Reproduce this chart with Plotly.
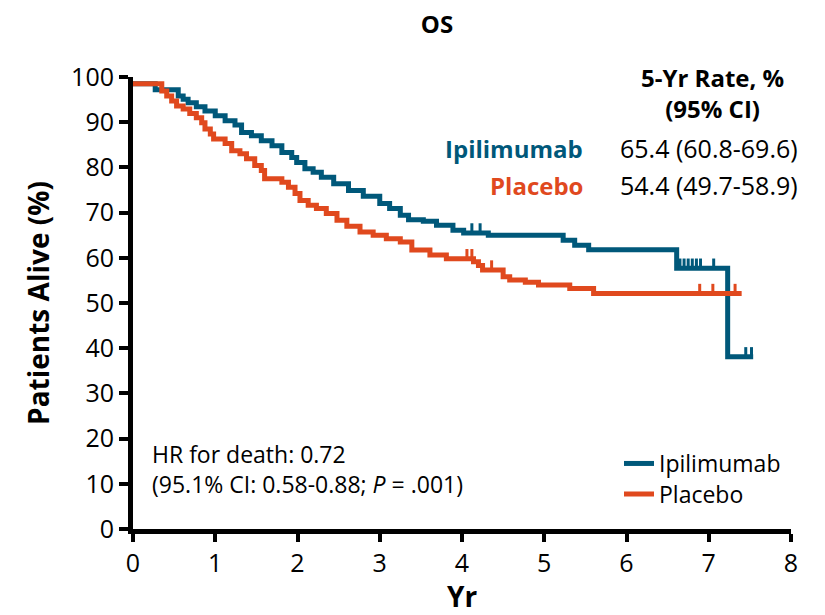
import numpy as np
import plotly.graph_objects as go

# ---- data ----
ipi_t = [0, 0.27, 0.55, 0.61, 0.67, 0.77, 0.875, 1.0, 1.12, 1.24, 1.32, 1.44, 1.56, 1.69,
         1.81, 1.93, 1.99, 2.09, 2.19, 2.29, 2.44, 2.62, 2.80, 3.0, 3.12, 3.25, 3.35, 3.53,
         3.69, 3.89, 4.02, 4.32, 5.23, 5.37, 5.54, 6.61, 7.23, 7.54]
ipi_s = [98.5, 97.2, 95.8, 95.1, 94.3, 93.4, 92.5, 91.4, 90.3, 89.4, 87.7, 87.0, 85.9, 84.8,
         83.3, 82.2, 81.1, 79.7, 78.9, 77.8, 76.4, 74.9, 73.6, 72.0, 70.9, 69.4, 68.4, 68.1,
         67.2, 66.1, 65.5, 65.0, 63.9, 62.8, 61.8, 57.7, 38.1, 38.1]
ipi_censor = [4.12, 4.22, 6.65, 6.70, 6.75, 6.80, 6.85, 6.90, 7.06, 7.45, 7.52]

pla_t = [0, 0.35, 0.41, 0.47, 0.53, 0.61, 0.69, 0.77, 0.835, 0.875, 0.94, 0.98, 1.12, 1.2,
         1.3, 1.38, 1.48, 1.56, 1.6, 1.81, 1.89, 1.97, 2.03, 2.13, 2.23, 2.35, 2.48, 2.6,
         2.76, 2.92, 3.08, 3.25, 3.39, 3.61, 3.81, 4.14, 4.20, 4.25, 4.50, 4.58, 4.77, 4.93,
         5.31, 5.6, 7.4]
pla_s = [98.5, 96.9, 95.8, 94.7, 93.6, 92.9, 91.9, 91.0, 89.9, 88.5, 87.4, 86.3, 85.3, 83.7,
         83.0, 81.9, 80.4, 79.3, 77.5, 76.7, 75.6, 74.2, 72.7, 71.6, 70.9, 69.8, 68.3, 67.0,
         65.7, 65.0, 64.2, 63.5, 61.7, 60.6, 59.8, 59.1, 58.3, 57.3, 55.8, 55.1, 54.6, 54.0,
         53.2, 52.1, 52.1]
pla_censor = [4.06, 4.12, 4.36, 6.89, 7.05, 7.32]

x_ticks = [0, 1, 2, 3, 4, 5, 6, 7, 8]
y_ticks = [0, 10, 20, 30, 40, 50, 60, 70, 80, 90, 100]

groups = ["Ipilimumab", "Placebo"]
rates = ["65.4 (60.8-69.6)", "54.4 (49.7-58.9)"]
hr_text = "HR for death: 0.72<br>(95.1% CI: 0.58-0.88; <i>P</i> = .001)"

TEAL = "#00587A"
ORANGE = "#E0491E"
FONT = "Open Sans"

# page has an 8px body margin; figure sized so it fits the 825x615 window
OFF = 8
W, H = 825 - OFF, 615 - OFF
# plot area in screen px: x 133..791, y 77..529
L, R, T, B = 133 - OFF, 825 - 791, 77 - OFF, 615 - 529
PW, PH = W - L - R, H - T - B


def px2x(px):
    return (px - OFF - L) / PW


def py2y(py):
    return (H - B - (py - OFF)) / PH


def step_at(ts, ss, t):
    i = np.searchsorted(np.asarray(ts), t, side="right") - 1
    return np.asarray(ss)[i]


fig = go.Figure()
for name, ts, ss, cens, col, lg in [
    ("Ipilimumab", ipi_t, ipi_s, ipi_censor, TEAL, "legend"),
    ("Placebo", pla_t, pla_s, pla_censor, ORANGE, "legend2"),
]:
    fig.add_trace(go.Scatter(x=ts, y=ss, mode="lines", line=dict(color=col, width=5, shape="hv"),
                             name=name, showlegend=True, legend=lg))
    cy = [step_at(ts, ss, c) + 0.9 for c in cens]
    fig.add_trace(go.Scatter(x=cens, y=cy, mode="markers", showlegend=False,
                             marker=dict(symbol="line-ns", size=8, line=dict(color=col, width=3))))

leg_common = dict(xanchor="left", yanchor="middle", bgcolor="rgba(0,0,0,0)",
                  font=dict(size=23, family=FONT), itemwidth=30)
fig.update_layout(
    width=W, height=H,
    margin=dict(l=L, r=R, t=T, b=B),
    paper_bgcolor="white", plot_bgcolor="white",
    font=dict(family=FONT, color="black", size=24),
    title=dict(text="<b>OS</b>", x=px2x(437), xref="paper", xanchor="center",
               y=1 - (25 - OFF) / H, yref="container", yanchor="middle",
               font=dict(size=24, family=FONT)),
    showlegend=True,
    legend=dict(x=px2x(619), y=py2y(463.5), **leg_common),
    legend2=dict(x=px2x(619), y=py2y(494), **leg_common),
)
fig.update_xaxes(range=[0, 8], tickvals=x_ticks, ticktext=[str(v) for v in x_ticks],
                 showline=True, linecolor="black", linewidth=5, ticks="outside",
                 ticklen=8, tickwidth=4, tickcolor="black", showgrid=False, zeroline=False,
                 automargin=False, tickfont=dict(size=25, family=FONT),
                 title=dict(text="<b>Yr</b>", font=dict(size=28, family=FONT), standoff=0))
fig.update_yaxes(range=[0, 100], tickvals=y_ticks, ticktext=[str(v) for v in y_ticks],
                 showline=True, linecolor="black", linewidth=5, ticks="outside",
                 ticklen=9, tickwidth=4, tickcolor="black", showgrid=False, zeroline=False,
                 automargin=False, tickfont=dict(size=25, family=FONT),
                 title=dict(text="<b>Patients Alive (%)</b>", font=dict(size=28, family=FONT),
                            standoff=15))

# 5-yr rate table
fig.add_annotation(x=px2x(712), y=py2y(93), xref="paper", yref="paper",
                   text="<b>5-Yr Rate, %<br>(95% CI)</b>", showarrow=False,
                   xanchor="center", yanchor="middle", font=dict(size=24))
for g, r, py, col in [(groups[0], rates[0], 148, TEAL), (groups[1], rates[1], 185, ORANGE)]:
    fig.add_annotation(x=px2x(585), y=py2y(py), xref="paper", yref="paper", text=f"<b>{g}</b>",
                       showarrow=False, xanchor="right", yanchor="middle",
                       font=dict(size=24, color=col))
    fig.add_annotation(x=px2x(618), y=py2y(py), xref="paper", yref="paper", text=r,
                       showarrow=False, xanchor="left", yanchor="middle",
                       font=dict(size=25, color="black"))

# HR text
fig.add_annotation(x=px2x(150), y=py2y(469), xref="paper", yref="paper", text=hr_text,
                   showarrow=False, xanchor="left", yanchor="middle", align="left",
                   font=dict(size=23, color="black"))

fig.write_html("out.html")
